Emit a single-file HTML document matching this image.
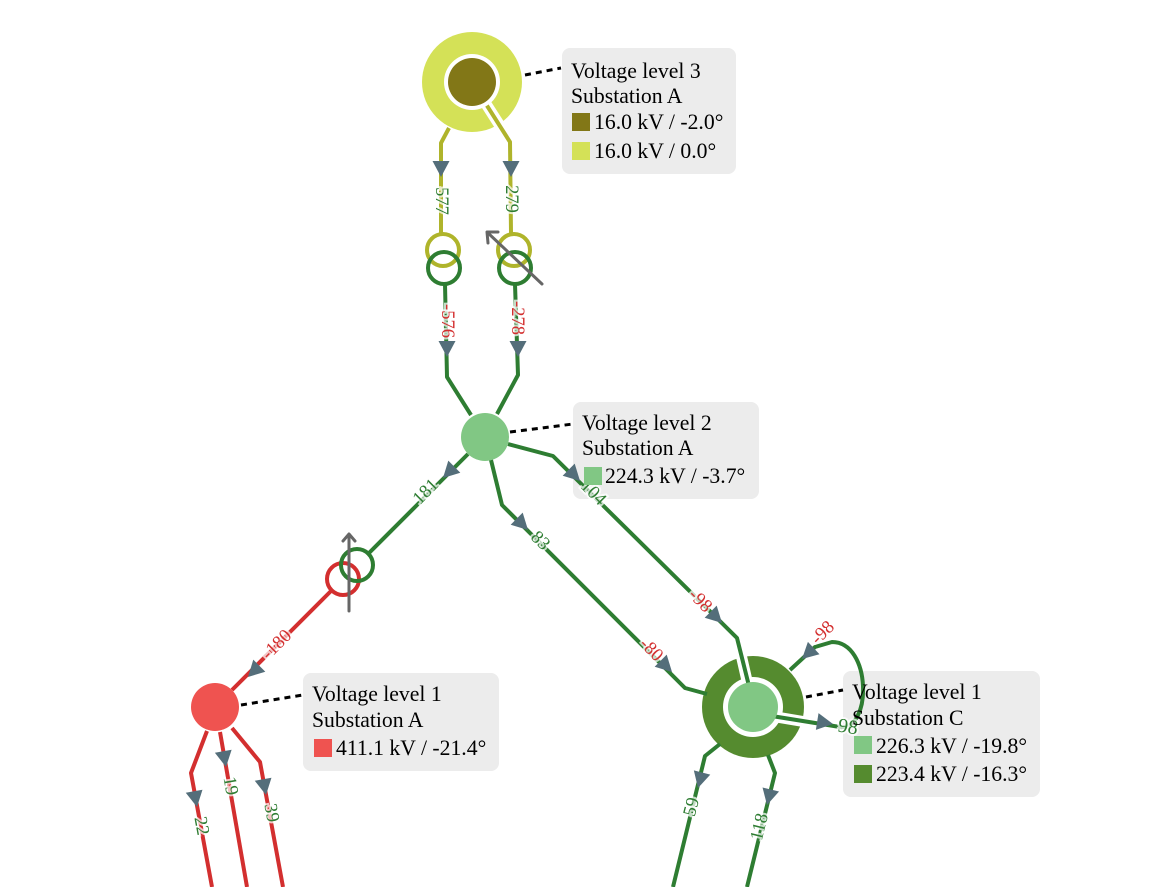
<!DOCTYPE html>
<html><head><meta charset="utf-8"><style>
html,body{margin:0;padding:0;background:#fff;}
svg{display:block;}
.lbl{font-family:"Liberation Serif",serif;font-size:18.5px;text-anchor:middle;dominant-baseline:central;stroke:#fff;stroke-opacity:.72;stroke-width:4;paint-order:stroke;}
.pos{fill:#2e7d32;}
.neg{fill:#d32f2f;}
.bt{font-family:"Liberation Serif",serif;font-size:21.7px;fill:#000;}
</style></head><body>
<svg width="1158" height="887" viewBox="0 0 1158 887" xmlns="http://www.w3.org/2000/svg">
<defs>
<path id="ar" d="M0,0 L-16,-8.5 L-16,8.5 Z" fill="#546e7a"/>
</defs>
<rect width="1158" height="887" fill="#fff"/>

<!-- label boxes -->
<rect x="562" y="48" width="174" height="126" rx="8" fill="#ececec"/>
<rect x="573" y="402" width="186" height="97" rx="8" fill="#ececec"/>
<rect x="303" y="673" width="196" height="98" rx="8" fill="#ececec"/>
<rect x="843" y="671" width="197" height="126" rx="8" fill="#ececec"/>

<!-- dashed connectors -->
<g stroke="#000" stroke-width="3" stroke-dasharray="6,5" fill="none">
<line x1="525" y1="75" x2="561" y2="68"/>
<line x1="510" y1="432" x2="573" y2="424"/>
<line x1="241" y1="705" x2="303" y2="695"/>
<line x1="806" y1="697" x2="843" y2="690"/>
</g>

<!-- VL3 outer ring -->
<circle cx="472" cy="82" r="50" fill="#d4e157"/>
<line x1="472" y1="82" x2="502" y2="129" stroke="#fff" stroke-width="11"/>

<!-- VL1C outer ring -->
<circle cx="753" cy="707" r="51" fill="#558b2f"/>
<line x1="740" y1="650" x2="753" y2="707" stroke="#fff" stroke-width="11"/>
<line x1="753" y1="713" x2="812" y2="723" stroke="#fff" stroke-width="11"/>
<circle cx="753" cy="707" r="30" fill="#fff"/>

<!-- yellow lines -->
<g fill="none" stroke="#afb42b" stroke-width="4" stroke-linejoin="round">
<polyline points="449,128 441,143 441,234"/>
<polyline points="472,82 510,142 511,233"/>
</g>

<!-- green lines -->
<g fill="none" stroke="#2e7d32" stroke-width="4" stroke-linejoin="round">
<polyline points="445,284 447,377 471,415"/>
<polyline points="515,284 518,375 497,414"/>
<line x1="468" y1="454" x2="367" y2="555"/>
<polyline points="508,444 553,456 737,638 753,702"/>
<polyline points="491,460 502,505 685,688 707,694"/>
<path d="M753,713 L840,727 C872,731 872,642 832,642 L815,647 L790,670"/>
<polyline points="720,744 705,756 673,887"/>
<polyline points="768,755 775,773 747,887"/>
</g>

<!-- red lines -->
<g fill="none" stroke="#d32f2f" stroke-width="4" stroke-linejoin="round">
<line x1="332" y1="590" x2="232" y2="690"/>
<polyline points="207,731 191,773 212,887"/>
<line x1="220" y1="732" x2="247" y2="887"/>
<polyline points="232,728 260,762 283,887"/>
</g>

<!-- transformers -->
<g fill="none" stroke-width="4">
<circle cx="443" cy="250" r="16" stroke="#afb42b"/>
<circle cx="444" cy="268" r="16" stroke="#2e7d32"/>
<circle cx="514" cy="250" r="16" stroke="#afb42b"/>
<circle cx="515" cy="268" r="16" stroke="#2e7d32"/>
<circle cx="343" cy="579" r="16" stroke="#d32f2f"/>
<circle cx="357" cy="565" r="16" stroke="#2e7d32"/>
</g>
<g stroke="#666" stroke-width="3" fill="none" stroke-linecap="round" stroke-linejoin="round">
<line x1="542" y1="284" x2="488" y2="233"/>
<polyline points="488,243 487,232 498,232"/>
<line x1="349" y1="611" x2="349" y2="535"/>
<polyline points="343,541 349,534 355,541"/>
</g>

<!-- nodes -->
<circle cx="472" cy="82" r="28" fill="#fff"/>
<circle cx="472" cy="82" r="24" fill="#827717"/>
<circle cx="485" cy="437" r="24" fill="#81c784"/>
<circle cx="215" cy="707" r="24" fill="#ef5350"/>
<circle cx="753" cy="707" r="25" fill="#81c784"/>

<!-- arrows -->
<use href="#ar" transform="translate(441,177) rotate(90)"/>
<use href="#ar" transform="translate(511,177) rotate(90)"/>
<use href="#ar" transform="translate(447,357) rotate(90)"/>
<use href="#ar" transform="translate(518,357) rotate(90)"/>
<use href="#ar" transform="translate(443,478) rotate(135)"/>
<use href="#ar" transform="translate(248,677) rotate(135)"/>
<use href="#ar" transform="translate(580,481) rotate(45)"/>
<use href="#ar" transform="translate(722,623) rotate(45)"/>
<use href="#ar" transform="translate(528,530) rotate(45)"/>
<use href="#ar" transform="translate(672,672) rotate(45)"/>
<use href="#ar" transform="translate(833,724) rotate(9)"/>
<use href="#ar" transform="translate(802,659) rotate(137)"/>
<use href="#ar" transform="translate(698,788) rotate(104.7)"/>
<use href="#ar" transform="translate(767,805) rotate(103.7)"/>
<use href="#ar" transform="translate(197,807) rotate(79.6)"/>
<use href="#ar" transform="translate(226,767) rotate(80.1)"/>
<use href="#ar" transform="translate(266,795) rotate(79.6)"/>

<!-- line labels -->
<text class="lbl pos" transform="translate(441,201) rotate(90)">577</text>
<text class="lbl pos" transform="translate(511,199) rotate(90)">279</text>
<text class="lbl neg" transform="translate(447,321) rotate(90)">-576</text>
<text class="lbl neg" transform="translate(517,318) rotate(90)">-278</text>
<text class="lbl pos" transform="translate(426,492) rotate(-45)">181</text>
<text class="lbl neg" transform="translate(277,645) rotate(-45)">-180</text>
<text class="lbl pos" transform="translate(593,493) rotate(45)">104</text>
<text class="lbl neg" transform="translate(700,601) rotate(45)">-98</text>
<text class="lbl pos" transform="translate(540,541) rotate(45)">83</text>
<text class="lbl neg" transform="translate(651,650) rotate(45)">-80</text>
<text class="lbl neg" transform="translate(823,633) rotate(-45)">-98</text>
<text class="lbl pos" transform="translate(848,727) rotate(9)" style="font-size:20px">98</text>
<text class="lbl pos" transform="translate(201,826) rotate(79.6)">22</text>
<text class="lbl pos" transform="translate(230,786) rotate(80.1)">19</text>
<text class="lbl pos" transform="translate(271,813) rotate(79.6)">39</text>
<text class="lbl pos" transform="translate(692,807) rotate(-75.3)">59</text>
<text class="lbl pos" transform="translate(760,827) rotate(-76.3)">118</text>

<!-- box texts -->
<text class="bt" x="571" y="78">Voltage level 3</text>
<text class="bt" x="571" y="103">Substation A</text>
<rect x="572" y="113" width="18" height="18" fill="#827717"/>
<text class="bt" x="594" y="129">16.0 kV / -2.0°</text>
<rect x="572" y="142" width="18" height="18" fill="#d4e157"/>
<text class="bt" x="594" y="158">16.0 kV / 0.0°</text>

<text class="bt" x="582" y="430">Voltage level 2</text>
<text class="bt" x="582" y="455">Substation A</text>
<rect x="584" y="467" width="18" height="18" fill="#81c784"/>
<text class="bt" x="605" y="483">224.3 kV / -3.7°</text>

<text class="bt" x="312" y="701">Voltage level 1</text>
<text class="bt" x="312" y="727">Substation A</text>
<rect x="314" y="739" width="18" height="18" fill="#ef5350"/>
<text class="bt" x="336" y="755">411.1 kV / -21.4°</text>

<text class="bt" x="852" y="699">Voltage level 1</text>
<text class="bt" x="852" y="725">Substation C</text>
<rect x="854" y="736" width="18" height="18" fill="#81c784"/>
<text class="bt" x="876" y="753">226.3 kV / -19.8°</text>
<rect x="854" y="765" width="18" height="18" fill="#558b2f"/>
<text class="bt" x="876" y="781">223.4 kV / -16.3°</text>
</svg>
</body></html>
